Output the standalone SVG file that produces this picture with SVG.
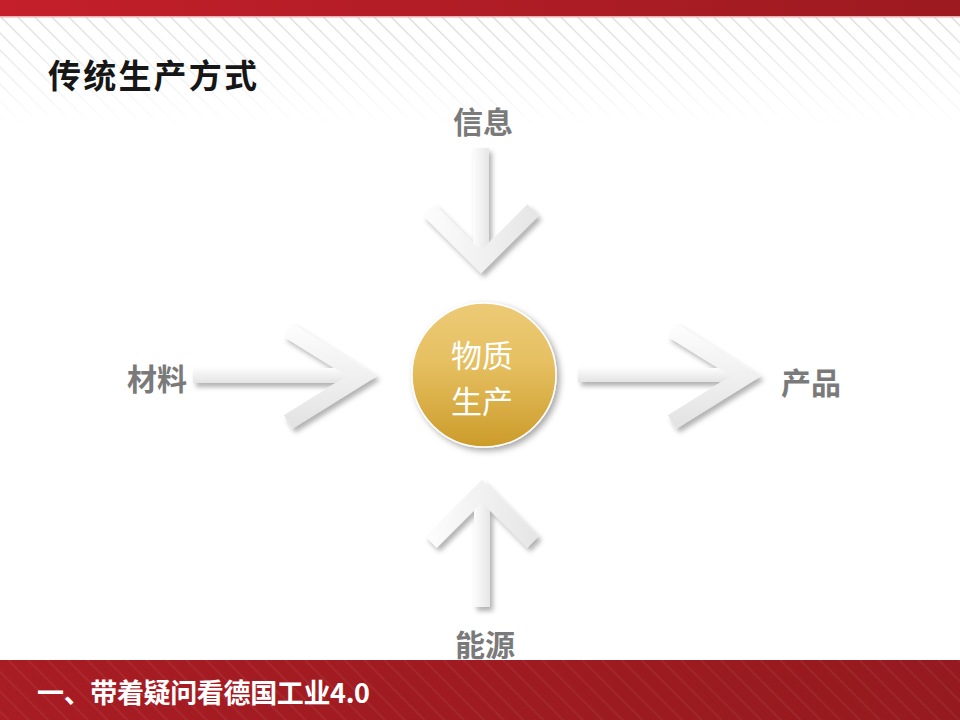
<svg xmlns="http://www.w3.org/2000/svg" width="960" height="720" viewBox="0 0 960 720">
<defs>
<style>
.lbl{font-family:"Noto Sans CJK SC","Noto Sans",sans-serif;font-weight:bold;font-size:30px;fill:#7a7a7a;text-anchor:middle}
.ctr{font-family:"Noto Sans CJK SC","Noto Sans",sans-serif;font-size:31px;fill:#ffffff;text-anchor:middle}
.arm{fill:none;stroke-width:16;stroke-linejoin:miter;stroke-miterlimit:10;stroke-linecap:butt}
</style>
<linearGradient id="redTop" x1="0" y1="0" x2="1" y2="0">
<stop offset="0" stop-color="#c41f2a"/><stop offset="1" stop-color="#9c1a20"/>
</linearGradient>
<linearGradient id="redBot" x1="0" y1="0" x2="1" y2="0">
<stop offset="0" stop-color="#a81c23"/><stop offset="1" stop-color="#951a1f"/>
</linearGradient>
<linearGradient id="gold" x1="0" y1="0" x2="0" y2="1">
<stop offset="0" stop-color="#ecca76"/><stop offset="0.4" stop-color="#e6c062"/><stop offset="1" stop-color="#cc9c2a"/>
</linearGradient>
<linearGradient id="silverV" x1="0" y1="0" x2="1" y2="0">
<stop offset="0" stop-color="#fcfcfc"/><stop offset="1" stop-color="#e6e6e6"/>
</linearGradient>
<linearGradient id="silverH" x1="0" y1="0" x2="0" y2="1">
<stop offset="0" stop-color="#fcfcfc"/><stop offset="1" stop-color="#e4e4e4"/>
</linearGradient>
<pattern id="stripes" width="12" height="12" patternUnits="userSpaceOnUse" patternTransform="rotate(-45)">
<rect x="0" y="0" width="1.2" height="12" fill="#d6d6d6"/>
</pattern>
<pattern id="stripesRed" width="14" height="14" patternUnits="userSpaceOnUse" patternTransform="rotate(-45)">
<rect x="0" y="0" width="2" height="14" fill="#ffffff" fill-opacity="0.05"/>
</pattern>
<linearGradient id="fade" x1="0" y1="0" x2="0" y2="1">
<stop offset="0" stop-color="#fff" stop-opacity="1"/><stop offset="1" stop-color="#fff" stop-opacity="0"/>
</linearGradient>
<mask id="fadeMask"><rect x="0" y="16" width="960" height="110" fill="url(#fade)"/></mask>
<filter id="shadow" x="-20%" y="-20%" width="150%" height="150%">
<feDropShadow dx="3" dy="4" stdDeviation="2.5" flood-color="#000" flood-opacity="0.3"/>
</filter>
<filter id="cshadow" x="-20%" y="-20%" width="150%" height="150%">
<feDropShadow dx="3" dy="3" stdDeviation="3" flood-color="#000" flood-opacity="0.35"/>
</filter>
</defs>
<rect width="960" height="720" fill="#ffffff"/>
<rect x="0" y="16" width="960" height="110" fill="url(#stripes)" mask="url(#fadeMask)"/>
<rect x="0" y="0" width="960" height="16" fill="url(#redTop)"/>
<rect x="0" y="16" width="960" height="1.5" fill="#e8b0b0"/>
<rect x="0" y="660" width="960" height="60" fill="url(#redBot)"/>
<rect x="0" y="660" width="960" height="60" fill="url(#stripesRed)"/>
<text x="48" y="88" font-family="'Noto Sans CJK SC','Noto Sans',sans-serif" font-weight="bold" font-size="33" fill="#161616" textLength="209">传统生产方式</text>
<text x="37" y="703" font-family="'Noto Sans CJK SC','Noto Sans',sans-serif" font-weight="bold" font-size="27" fill="#ffffff" textLength="333">一、带着疑问看德国工业4.0</text>

<g id="connectors" filter="url(#shadow)">
<g id="arrow-info">
<rect x="473" y="148" width="16" height="112" fill="url(#silverV)"/>
<polyline class="arm" points="429,210 481,262 533,210" stroke="url(#silverV)"/>
</g>
<g id="arrow-energy">
<rect x="474" y="491" width="16" height="116" fill="url(#silverV)"/>
<polyline class="arm" points="431,542 482,491 533,542" stroke="url(#silverV)"/>
</g>
<g id="arrow-material">
<rect x="193" y="368" width="170" height="15" fill="url(#silverH)"/>
<polyline class="arm" points="288,330 362,376 288,422" stroke="url(#silverH)"/>
</g>
<g id="arrow-product">
<rect x="578" y="368" width="172" height="14" fill="url(#silverH)"/>
<polyline class="arm" points="672,330 746,376 672,422" stroke="url(#silverH)"/>
</g>
</g>

<g id="node-center">
<circle cx="484" cy="375" r="72" fill="url(#gold)" stroke="#ffffff" stroke-width="1.5" filter="url(#cshadow)"/>
<text class="ctr" x="482" y="367">物质</text>
<text class="ctr" x="482" y="413">生产</text>
</g>
<g id="node-info"><text class="lbl" x="483" y="133">信息</text></g>
<g id="node-material"><text class="lbl" x="157" y="390">材料</text></g>
<g id="node-product"><text class="lbl" x="811" y="394">产品</text></g>
<g id="node-energy"><text class="lbl" x="485" y="656">能源</text></g>
</svg>
